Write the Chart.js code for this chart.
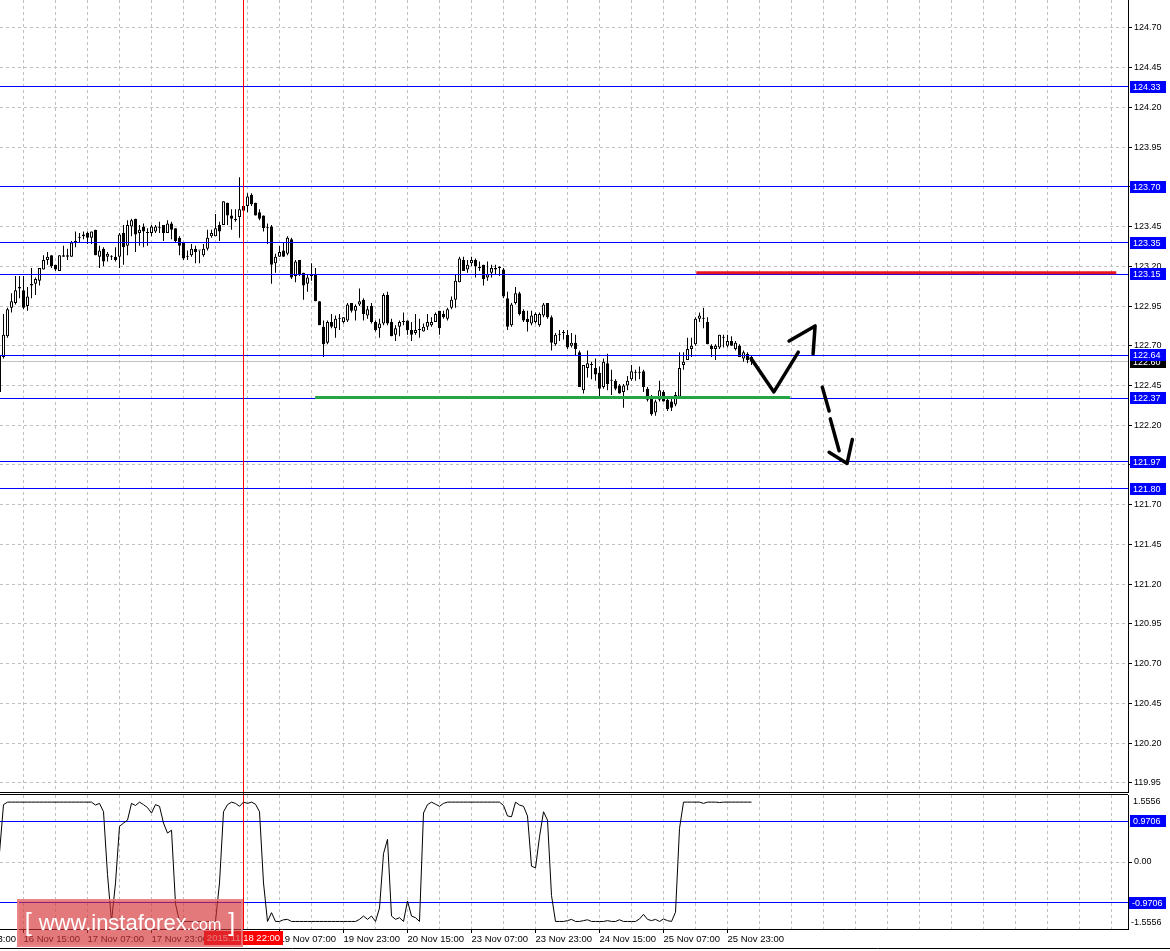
<!DOCTYPE html>
<html>
<head>
<meta charset="utf-8">
<script src="https://cdn.jsdelivr.net/npm/chart.js@4.4.1/dist/chart.umd.min.js"></script>
<style>
html,body{margin:0;padding:0;background:#fff;width:1170px;height:951px;overflow:hidden;position:relative;}
#cA{position:absolute;left:0;top:0;}
#cB{position:absolute;left:0;top:793px;}
#wm{position:absolute;left:17px;top:899px;width:222px;height:44px;background:rgba(214,52,56,0.66);
border:2px solid rgba(236,140,140,0.7);color:#fff;font-family:"Liberation Sans",Arial,sans-serif;
display:flex;align-items:center;justify-content:center;white-space:nowrap;z-index:5;}
#wm .br{font-size:25px;font-weight:300;margin:0 7px;position:relative;top:-1px;}
#wm .w{font-size:22px;}
#wm .c{font-size:16px;position:relative;top:2px;}
</style>
</head>
<body>
<canvas id="cA" width="1170" height="793"></canvas>
<canvas id="cB" width="1170" height="158"></canvas>
<div id="wm"><span class="br">[</span><span class="w">www.instaforex</span><span class="c">.com</span><span class="br">]</span></div>
<script>
// ---------------- DATA ----------------
const opens = [
122.64,122.63,122.76,122.94,122.97,123.06,123.05,122.95,123.08,123.09,
123.11,123.18,123.24,123.27,123.21,123.17,123.26,123.27,123.26,123.35,
123.38,123.39,123.41,123.38,123.43,123.26,123.31,123.26,123.26,123.26,
123.26,123.41,123.33,123.45,123.50,123.41,123.45,123.41,123.41,123.42,
123.44,123.46,123.41,123.47,123.44,123.38,123.35,123.26,123.27,123.31,
123.30,123.27,123.31,123.39,123.39,123.46,123.46,123.60,123.52,123.50,
123.51,123.58,123.58,123.65,123.60,123.54,123.52,123.44,123.45,123.22,
123.26,123.30,123.28,123.37,123.14,123.24,123.16,123.09,123.14,123.15,
122.98,122.82,122.72,122.85,122.81,122.87,122.85,122.86,122.97,122.92,
122.96,122.99,122.89,122.95,122.85,122.81,122.84,123.02,122.85,122.77,
122.82,122.85,122.86,122.80,122.78,122.80,122.79,122.82,122.83,122.85,
122.92,122.90,122.87,122.94,122.99,123.10,123.24,123.18,123.22,123.24,
123.19,123.21,123.13,123.16,123.18,123.19,123.18,123.00,122.83,122.97,
123.03,122.92,122.87,122.84,122.85,122.83,122.89,122.97,122.88,122.71,
122.77,122.78,122.77,122.70,122.72,122.66,122.42,122.56,122.58,122.56,
122.53,122.44,122.59,122.48,122.48,122.45,122.41,122.45,122.49,122.53,
122.53,122.54,122.43,122.38,122.28,122.36,122.41,122.36,122.35,122.33,
122.38,122.58,122.61,122.68,122.71,122.87,122.87,122.85,122.70,122.68,
122.69,122.75,122.70,122.73,122.68,122.70,122.62,122.65,122.63];
const highs = [
122.66,122.90,122.94,123.03,123.14,123.14,123.14,123.07,123.19,123.13,
123.19,123.27,123.29,123.27,123.21,123.27,123.33,123.31,123.36,123.42,
123.41,123.42,123.42,123.42,123.43,123.33,123.32,123.29,123.27,123.32,
123.41,123.46,123.49,123.50,123.50,123.46,123.47,123.44,123.46,123.46,
123.48,123.46,123.49,123.48,123.44,123.39,123.35,123.30,123.34,123.33,
123.30,123.34,123.43,123.43,123.53,123.48,123.61,123.60,123.56,123.56,
123.76,123.60,123.66,123.66,123.60,123.56,123.52,123.47,123.46,123.28,
123.33,123.35,123.39,123.38,123.24,123.24,123.16,123.15,123.22,123.19,
122.98,122.86,122.86,122.90,122.89,122.90,122.88,122.97,122.97,122.96,
123.06,123.00,122.95,122.97,122.86,122.87,123.03,123.04,122.87,122.83,
122.86,122.91,122.86,122.85,122.90,122.87,122.84,122.90,122.88,122.91,
122.92,122.92,122.94,123.01,123.15,123.26,123.26,123.24,123.26,123.25,
123.23,123.21,123.23,123.21,123.21,123.20,123.19,123.04,122.97,123.07,
123.04,122.93,122.92,122.92,122.91,122.91,122.97,122.97,122.89,122.78,
122.80,122.80,122.80,122.78,122.77,122.67,122.58,122.67,122.60,122.62,
122.57,122.62,122.65,122.55,122.49,122.46,122.46,122.51,122.58,122.55,
122.57,122.55,122.44,122.39,122.36,122.48,122.42,122.38,122.38,122.41,
122.66,122.66,122.75,122.75,122.88,122.91,122.94,122.88,122.71,122.71,
122.77,122.77,122.77,122.76,122.73,122.71,122.67,122.66,122.64];
const lows = [
122.40,122.62,122.75,122.91,122.96,123.00,122.93,122.92,123.00,123.02,
123.08,123.18,123.21,123.19,123.17,123.17,123.26,123.24,123.26,123.32,
123.35,123.37,123.34,123.34,123.27,123.19,123.20,123.23,123.24,123.23,
123.19,123.21,123.27,123.39,123.29,123.33,123.32,123.33,123.39,123.41,
123.41,123.36,123.41,123.37,123.35,123.27,123.24,123.24,123.26,123.22,
123.22,123.26,123.30,123.38,123.39,123.36,123.46,123.46,123.43,123.48,
123.38,123.55,123.54,123.58,123.52,123.49,123.42,123.34,123.09,123.16,
123.26,123.26,123.27,123.12,123.10,123.14,122.99,123.04,123.11,122.98,
122.83,122.63,122.71,122.81,122.75,122.80,122.84,122.85,122.91,122.86,
122.95,122.86,122.87,122.84,122.79,122.75,122.83,122.83,122.76,122.73,
122.76,122.83,122.77,122.73,122.77,122.75,122.79,122.80,122.82,122.85,
122.77,122.87,122.86,122.93,122.94,123.10,123.17,123.16,123.20,123.13,
123.17,123.08,123.11,123.13,123.15,123.14,123.00,122.80,122.82,122.96,
122.89,122.85,122.79,122.83,122.84,122.82,122.88,122.87,122.67,122.70,
122.73,122.74,122.68,122.69,122.64,122.44,122.40,122.50,122.49,122.48,
122.37,122.43,122.42,122.39,122.42,122.40,122.31,122.42,122.48,122.48,
122.49,122.41,122.35,122.26,122.26,122.35,122.35,122.29,122.29,122.32,
122.38,122.55,122.61,122.63,122.70,122.85,122.81,122.71,122.63,122.61,
122.68,122.69,122.69,122.70,122.67,122.63,122.60,122.59,122.58];
const closes = [
122.41,122.77,122.93,122.98,123.05,123.07,122.94,123.01,123.09,123.12,
123.19,123.24,123.26,123.20,123.18,123.27,123.27,123.26,123.35,123.36,
123.38,123.40,123.38,123.42,123.27,123.30,123.23,123.28,123.26,123.24,
123.40,123.32,123.46,123.49,123.40,123.43,123.42,123.41,123.45,123.45,
123.44,123.41,123.47,123.43,123.36,123.33,123.25,123.26,123.31,123.29,
123.30,123.31,123.38,123.41,123.44,123.42,123.61,123.52,123.50,123.49,
123.56,123.55,123.64,123.59,123.52,123.50,123.44,123.44,123.21,123.26,
123.29,123.26,123.38,123.13,123.23,123.15,123.08,123.13,123.14,122.98,
122.83,122.71,122.85,122.82,122.87,122.87,122.88,122.96,122.92,122.95,
122.98,122.90,122.93,122.85,122.80,122.84,123.02,122.84,122.76,122.81,
122.85,122.85,122.80,122.77,122.80,122.80,122.82,122.85,122.85,122.90,
122.81,122.88,122.93,122.99,123.11,123.25,123.17,123.21,123.24,123.20,
123.19,123.12,123.15,123.19,123.19,123.19,123.01,122.82,122.96,123.03,
122.90,122.86,122.85,122.89,122.90,122.90,122.96,122.88,122.72,122.77,
122.77,122.78,122.69,122.72,122.68,122.44,122.58,122.59,122.58,122.52,
122.43,122.60,122.46,122.48,122.43,122.40,122.45,122.48,122.54,122.53,
122.53,122.44,122.36,122.27,122.35,122.42,122.35,122.30,122.31,122.39,
122.56,122.60,122.68,122.70,122.87,122.89,122.87,122.71,122.68,122.70,
122.77,122.75,122.73,122.70,122.72,122.63,122.66,122.61,122.60];
const indicator = [
0.22,1.37,1.43,1.43,1.43,1.43,1.43,1.43,1.43,1.43,
1.43,1.43,1.43,1.43,1.43,1.43,1.43,1.43,1.43,1.43,
1.43,1.43,1.43,1.43,1.36,1.40,1.20,-0.30,-1.42,-0.50,
0.85,0.93,1.00,1.40,1.35,1.43,1.37,1.30,1.17,1.37,
1.33,0.93,0.69,0.76,-1.00,-1.42,-1.42,-1.42,-1.42,-1.42,
-1.42,-1.42,-1.42,-1.42,-1.42,-0.50,1.20,1.37,1.43,1.40,
1.33,1.43,1.40,1.43,1.38,1.20,-0.50,-1.42,-1.21,-1.42,
-1.42,-1.38,-1.37,-1.42,-1.42,-1.42,-1.42,-1.42,-1.42,-1.42,
-1.42,-1.42,-1.42,-1.42,-1.42,-1.42,-1.42,-1.42,-1.42,-1.42,
-1.37,-1.29,-1.37,-1.29,-1.42,-1.10,0.20,0.54,-1.29,-1.37,
-1.33,-1.42,-0.93,-1.29,-1.33,-1.42,1.17,1.37,1.43,1.38,
1.33,1.40,1.43,1.43,1.43,1.43,1.43,1.43,1.43,1.43,
1.43,1.43,1.43,1.43,1.43,1.43,1.35,1.10,1.08,1.43,
1.36,1.33,1.10,-0.10,-0.14,0.60,1.20,1.00,-0.80,-1.42,
-1.42,-1.42,-1.40,-1.37,-1.42,-1.42,-1.40,-1.38,-1.42,-1.42,
-1.42,-1.42,-1.40,-1.42,-1.42,-1.38,-1.42,-1.42,-1.42,-1.42,
-1.36,-1.25,-1.37,-1.40,-1.37,-1.42,-1.36,-1.40,-1.42,-1.20,
0.80,1.43,1.43,1.43,1.43,1.43,1.40,1.43,1.43,1.43,
1.42,1.43,1.43,1.43,1.43,1.43,1.43,1.43,1.43];

const priceTickLabels = ['124.70','124.45','124.20','123.95','123.70','123.45','123.20','122.95','122.70','122.45',
  '122.20','121.95','121.70','121.45','121.20','120.95','120.70','120.45','120.20','119.95'];
const levelPrices = [124.33, 123.70, 123.35, 123.15, 122.64, 122.37, 121.97, 121.80];
const levelLabels = ['124.33','123.70','123.35','123.15','122.64','122.37','121.97','121.80'];
const bidPrice = 122.60;
const bidLabel = '122.60';
const indLevels = [0.9706, -0.9706];
const indLevelLabels = ['0.9706', '-0.9706'];
const indEdgeLabels = ['1.5556', '-1.5556'];
const indZeroLabel = '0.00';
const timeLabelIdx = [-10, 6, 22, 38, 54, 70, 86, 102, 118, 134, 150, 166, 182];
const timeLabels = ['15 Nov 23:00','16 Nov 15:00','17 Nov 07:00','17 Nov 23:00','18 Nov 15:00','19 Nov 07:00',
  '19 Nov 23:00','20 Nov 15:00','23 Nov 07:00','23 Nov 23:00','24 Nov 15:00','25 Nov 07:00','25 Nov 23:00'];
const crossIdx = 61;
const crossLabel = '2015.11.18 22:00';
const greenLineX = [78.9, 197.7];
const greenLineY = [122.375, 122.375];
const redLineX = [174.2, 279.2];
const redLineY = [123.16, 123.16];
const arrowVX = [187.9, 193.6, 199.7];
const arrowVY = [122.62, 122.41, 122.66];
const arrowHeadX = [197.4, 203.9, 203.4];
const arrowHeadY = [122.73, 122.825, 122.65];
const arrowDownX = [205.7, 207.4, 207.5, 207.7, 209.9, 210.0, 207.4, 211.9, 213.2];
const arrowDownY = [122.44, 122.29, null, 122.24, 122.04, null, 122.03, 121.96, 122.11];

// ---------------- LAYOUT CONSTANTS ----------------
const X_MIN = 0.125, X_MAX = 282.125;
const Y_MIN = 119.886, Y_MAX = 124.876;
const IND_MIN = -1.6, IND_MAX = 1.6;
const AXIS_W = 42;
const GRID_START = -10, GRID_STEP = 8;
const FONT = '"Liberation Sans", Arial, sans-serif';
const BLUE = '#0000ff';

Chart.defaults.font.family = FONT;
Chart.defaults.color = '#000';

const idx = opens.map((_, i) => i);
const pts = (xs, ys) => xs.map((x, k) => ({x: x, y: ys[k]}));
const gridTicks = (s) => { const t = []; for (let v = GRID_START; v <= s.max; v += GRID_STEP) t.push({value: v}); s.ticks = t; };

function crisp(v) { return Math.round(v - 0.5) + 0.5; }

function labelBox(ctx, y, text, bg, x0) {
  const yy = Math.round(y);
  ctx.fillStyle = bg;
  ctx.fillRect(x0, yy - 6, 1166 - x0, 12);
  ctx.fillStyle = '#fff';
  ctx.font = '9px ' + FONT;
  ctx.textBaseline = 'middle';
  ctx.textAlign = 'left';
  ctx.fillText(text, x0 + 3, yy + 0.5);
}

const overlayA = {
  id: 'overlayA',
  beforeDatasetsDraw(chart) {
    const {ctx, chartArea: a, scales: {y}} = chart;
    ctx.save();
    ctx.beginPath(); ctx.rect(a.left, a.top, a.right - a.left, a.bottom - a.top); ctx.clip();
    const py = crisp(y.getPixelForValue(bidPrice));
    ctx.strokeStyle = '#c0c0c0'; ctx.lineWidth = 1;
    ctx.beginPath(); ctx.moveTo(a.left, py); ctx.lineTo(a.right, py); ctx.stroke();
    ctx.restore();
  },
  afterDatasetDraw(chart, args) {
    if (args.index !== 0) return;
    const {ctx, chartArea: a, scales: {x, y}} = chart;
    ctx.save();
    ctx.beginPath(); ctx.rect(a.left, a.top, a.right - a.left, a.bottom - a.top); ctx.clip();
    ctx.lineWidth = 1;
    ctx.strokeStyle = BLUE;
    levelPrices.forEach(v => {
      const py = crisp(y.getPixelForValue(v));
      ctx.beginPath(); ctx.moveTo(a.left, py); ctx.lineTo(a.right, py); ctx.stroke();
    });
    const px = crisp(x.getPixelForValue(crossIdx));
    ctx.strokeStyle = '#ff0000';
    ctx.beginPath(); ctx.moveTo(px, a.top); ctx.lineTo(px, a.bottom); ctx.stroke();
    ctx.restore();
  },
  afterDraw(chart) {
    const {ctx, chartArea: a, scales: {y}} = chart;
    ctx.save();
    labelBox(ctx, y.getPixelForValue(bidPrice), bidLabel, '#000', 1130);
    levelPrices.forEach((v, k) => labelBox(ctx, y.getPixelForValue(v), levelLabels[k], BLUE, 1130));
    ctx.strokeStyle = '#000'; ctx.lineWidth = 1;
    ctx.beginPath(); ctx.moveTo(0, a.bottom - 0.5); ctx.lineTo(a.right, a.bottom - 0.5); ctx.stroke();
    ctx.restore();
  }
};

const overlayB = {
  id: 'overlayB',
  beforeDatasetsDraw(chart) {
    const {ctx, chartArea: a, scales: {x, y}} = chart;
    ctx.save();
    ctx.lineWidth = 1;
    ctx.strokeStyle = BLUE;
    indLevels.forEach(v => {
      const py = crisp(y.getPixelForValue(v));
      ctx.beginPath(); ctx.moveTo(a.left, py); ctx.lineTo(a.right, py); ctx.stroke();
    });
    const px = crisp(x.getPixelForValue(crossIdx));
    ctx.strokeStyle = '#ff0000';
    ctx.beginPath(); ctx.moveTo(px, 0); ctx.lineTo(px, a.bottom); ctx.stroke();
    ctx.restore();
  },
  afterDraw(chart) {
    const {ctx, chartArea: a, scales: {x, y}} = chart;
    ctx.save();
    ctx.strokeStyle = '#000'; ctx.lineWidth = 1;
    ctx.beginPath(); ctx.moveTo(0, a.top - 0.5); ctx.lineTo(a.right, a.top - 0.5); ctx.stroke();
    ctx.beginPath(); ctx.moveTo(0, 155.5); ctx.lineTo(1170, 155.5); ctx.stroke();
    ctx.fillStyle = '#000';
    ctx.font = '9px ' + FONT;
    ctx.textBaseline = 'middle'; ctx.textAlign = 'left';
    ctx.fillText(indEdgeLabels[0], 1133, a.top + 6.5);
    ctx.fillText(indEdgeLabels[1], 1131, a.bottom - 6);
    indLevels.forEach((v, k) => labelBox(ctx, y.getPixelForValue(v), indLevelLabels[k], BLUE, v < 0 ? 1129 : 1130));
    const px = x.getPixelForValue(crossIdx);
    ctx.font = '9.5px ' + FONT;
    const w = ctx.measureText(crossLabel).width + 6;
    ctx.fillStyle = '#ff0000';
    ctx.fillRect(Math.round(px - w / 2), a.bottom + 2, Math.round(w), 14);
    ctx.fillStyle = '#fff';
    ctx.textAlign = 'center';
    ctx.fillText(crossLabel, px, a.bottom + 9.5);
    ctx.restore();
  }
};

// ---------------- CHART A (price) ----------------
new Chart(document.getElementById('cA'), {
  type: 'bar',
  data: {
    datasets: [
      {
        label: 'body',
        data: idx.map(i => ({x: i, y: [opens[i], closes[i]]})),
        backgroundColor: c => (closes[c.dataIndex] >= opens[c.dataIndex] ? '#ffffff' : '#000000'),
        borderColor: '#000', borderWidth: 1, borderSkipped: false,
        barThickness: 3, minBarLength: 1, grouped: false, inflateAmount: 0, order: 2
      },
      {
        label: 'wick',
        data: idx.map(i => ({x: i, y: [Math.min(lows[i], opens[i], closes[i]), Math.max(highs[i], opens[i], closes[i])]})),
        backgroundColor: '#000', borderWidth: 0,
        barThickness: 1, minBarLength: 1, grouped: false, inflateAmount: 0, order: 3
      },
      { type: 'line', label: 'green', data: pts(greenLineX, greenLineY), borderColor: '#24a548', borderWidth: 3,
        pointRadius: 0, tension: 0, order: 1 },
      { type: 'line', label: 'red', data: pts(redLineX, redLineY), borderColor: '#e8171f', borderWidth: 3,
        pointRadius: 0, tension: 0, order: 1 },
      { type: 'line', label: 'arrowV', data: pts(arrowVX, arrowVY), borderColor: '#000', borderWidth: 3.5,
        pointRadius: 0, tension: 0, borderCapStyle: 'round', borderJoinStyle: 'round', order: 0 },
      { type: 'line', label: 'arrowHead', data: pts(arrowHeadX, arrowHeadY), borderColor: '#000', borderWidth: 3.5,
        pointRadius: 0, tension: 0, borderCapStyle: 'round', borderJoinStyle: 'round', order: 0 },
      { type: 'line', label: 'arrowDown', data: pts(arrowDownX, arrowDownY), borderColor: '#000', borderWidth: 3.5,
        pointRadius: 0, tension: 0, spanGaps: false, borderCapStyle: 'round', borderJoinStyle: 'round', order: 0 }
    ]
  },
  options: {
    responsive: false, animation: false, events: [],
    layout: { padding: 0 },
    plugins: { legend: { display: false }, tooltip: { enabled: false } },
    scales: {
      x: {
        type: 'linear', min: X_MIN, max: X_MAX, offset: false,
        afterBuildTicks: gridTicks,
        ticks: { display: false },
        grid: { color: '#c0c0c0', drawTicks: false, offset: false },
        border: { display: false, dash: [3, 3] },
        afterFit: s => { s.height = 0; s.paddingLeft = 0; s.paddingRight = 0; }
      },
      y: {
        position: 'right', min: Y_MIN, max: Y_MAX,
        afterBuildTicks: s => { s.ticks = priceTickLabels.map(t => ({value: parseFloat(t)})); },
        ticks: { callback: (v, k) => priceTickLabels[k], font: { size: 9 }, color: '#000', padding: 2, autoSkip: false },
        grid: { color: '#c0c0c0', tickColor: '#000', tickLength: 4, drawTicks: true },
        border: { display: true, color: '#000', dash: [3, 3] },
        afterFit: s => { s.width = AXIS_W; s.paddingTop = 0; s.paddingBottom = 0; }
      }
    }
  },
  plugins: [overlayA]
});

// ---------------- CHART B (indicator) ----------------
new Chart(document.getElementById('cB'), {
  type: 'line',
  data: {
    datasets: [{
      label: 'indicator',
      data: idx.map(i => ({x: i, y: indicator[i]})),
      borderColor: '#000', borderWidth: 1, pointRadius: 0, tension: 0
    }]
  },
  options: {
    responsive: false, animation: false, events: [],
    layout: { padding: { top: 2, left: 0, right: 0, bottom: 0 } },
    plugins: { legend: { display: false }, tooltip: { enabled: false } },
    scales: {
      x: {
        type: 'linear', min: X_MIN, max: X_MAX, offset: false,
        afterBuildTicks: gridTicks,
        ticks: {
          callback: v => { const k = timeLabelIdx.indexOf(v); return k >= 0 ? timeLabels[k] : ''; },
          align: 'start', autoSkip: false, maxRotation: 0, minRotation: 0, padding: 1,
          font: { size: 9.5 }, color: '#000'
        },
        grid: {
          color: '#c0c0c0', drawTicks: true, tickLength: 4, offset: false,
          tickColor: c => (c.tick && timeLabelIdx.indexOf(c.tick.value) >= 0 ? '#000' : 'rgba(0,0,0,0)')
        },
        border: { display: true, color: '#000', dash: [3, 3] },
        afterFit: s => { s.height = 22; s.paddingLeft = 0; s.paddingRight = 0; }
      },
      y: {
        position: 'right', min: IND_MIN, max: IND_MAX,
        afterBuildTicks: s => { s.ticks = [{value: 0}]; },
        ticks: { callback: () => indZeroLabel, font: { size: 9 }, color: '#000', padding: 2 },
        grid: { color: '#c0c0c0', tickColor: '#000', tickLength: 4 },
        border: { display: true, color: '#000', dash: [3, 3] },
        afterFit: s => { s.width = AXIS_W; s.paddingTop = 0; s.paddingBottom = 0; }
      }
    }
  },
  plugins: [overlayB]
});
</script>
</body>
</html>
